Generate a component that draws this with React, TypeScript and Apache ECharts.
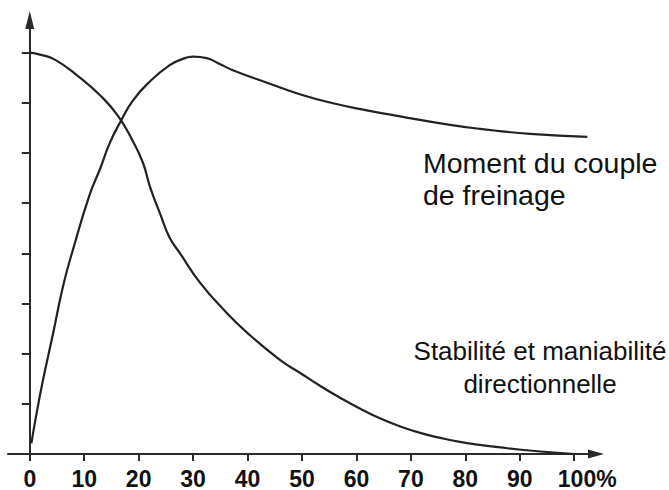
import React, { useEffect, useRef } from "react";
import * as echarts from "echarts";

// Tick values
const xTickValues = [0, 10, 20, 30, 40, 50, 60, 70, 80, 90, 100];
const yTickValues = [1, 2, 3, 4, 5, 6, 7, 8];

// "Stabilité et maniabilité directionnelle"
const stabiliteX = [0, 1.5, 4.6, 9.2, 12.9, 16.2, 18.9, 20.8, 22.1, 23.9, 25.7, 27.6, 31.3, 35.5, 39.9, 46.0, 49.6, 53.3, 57.0, 60.7, 64.3, 68.0, 71.7, 75.4, 79.0, 82.7, 86.4, 93.8, 100];
const stabiliteY = [8.0, 7.97, 7.86, 7.5, 7.15, 6.74, 6.24, 5.8, 5.32, 4.8, 4.31, 4.0, 3.41, 2.89, 2.42, 1.87, 1.62, 1.36, 1.12, 0.9, 0.71, 0.55, 0.42, 0.32, 0.24, 0.18, 0.13, 0.05, 0];

// "Moment du couple de freinage"
const momentX = [0.3, 0.9, 2.4, 4.2, 6.1, 7.9, 11.0, 12.9, 14.7, 16.7, 18.9, 22.1, 25.7, 28.0, 30.0, 32.5, 34.6, 37.3, 43.6, 49.6, 55.7, 61.9, 68.0, 77.2, 82.7, 91.9, 102.4];
const momentY = [0.21, 0.6, 1.46, 2.36, 3.34, 4.06, 5.17, 5.68, 6.2, 6.63, 7.04, 7.43, 7.75, 7.87, 7.92, 7.89, 7.79, 7.65, 7.4, 7.17, 6.99, 6.85, 6.73, 6.56, 6.48, 6.38, 6.32];

const labelMoment = "Moment du couple\nde freinage";
const labelStabilite = "Stabilité et maniabilité\ndirectionnelle";

const toPoints = (xs: number[], ys: number[]) => xs.map((x, i) => [x, ys[i]]);

const FONT = "'Liberation Sans', Arial, Helvetica, sans-serif";
const INK = "#2a2a2a";

export default function App() {
  const ref = useRef<HTMLDivElement>(null);

  useEffect(() => {
    if (!ref.current) return;
    const chart = echarts.init(ref.current, null, { renderer: "svg" });
    chart.setOption({
      animation: false,
      backgroundColor: "#ffffff",
      grid: { left: 8, right: 73, top: 20, bottom: 27, containLabel: false },
      xAxis: {
        type: "value",
        min: -4,
        max: 104,
        axisLine: {
          show: true,
          onZero: true,
          symbol: ["none", "triangle"],
          symbolSize: [9, 16],
          lineStyle: { color: INK, width: 2 },
        },
        axisTick: {
          show: true,
          customValues: xTickValues,
          length: 7,
          lineStyle: { color: INK, width: 2 },
        },
        axisLabel: {
          show: true,
          customValues: xTickValues,
          margin: 8,
          fontSize: 23,
          fontWeight: "bold",
          fontFamily: FONT,
          color: "#111",
          formatter: (v: number) => (v === 100 ? "{p|100%}" : String(v)),
          rich: {
            p: {
              fontSize: 23,
              fontWeight: "bold",
              fontFamily: FONT,
              color: "#111",
              padding: [0, 0, 0, 26],
            },
          },
        },
        splitLine: { show: false },
      },
      yAxis: {
        type: "value",
        min: -0.1,
        max: 8.65,
        axisLine: {
          show: true,
          onZero: true,
          symbol: ["none", "triangle"],
          symbolSize: [9, 18],
          lineStyle: { color: INK, width: 2 },
        },
        axisTick: {
          show: true,
          customValues: yTickValues,
          length: 8,
          lineStyle: { color: INK, width: 2 },
        },
        axisLabel: { show: false },
        splitLine: { show: false },
      },
      series: [
        {
          name: "Stabilité et maniabilité directionnelle",
          type: "line",
          data: toPoints(stabiliteX, stabiliteY),
          smooth: 0.5,
          symbol: "none",
          lineStyle: { color: "#222", width: 2.2 },
        },
        {
          name: "Moment du couple de freinage",
          type: "line",
          data: toPoints(momentX, momentY),
          smooth: 0.5,
          symbol: "none",
          lineStyle: { color: "#222", width: 2.2 },
        },
      ],
      graphic: [
        {
          type: "text",
          x: 423,
          y: 147,
          style: {
            text: labelMoment,
            fontSize: 28.5,
            fontFamily: FONT,
            fill: "#111",
            lineHeight: 32,
            align: "left",
            verticalAlign: "top",
          },
        },
        {
          type: "text",
          x: 540,
          y: 334,
          style: {
            text: labelStabilite,
            fontSize: 26,
            fontFamily: FONT,
            fill: "#111",
            lineHeight: 33,
            align: "center",
            verticalAlign: "top",
          },
        },
      ],
    });
    return () => chart.dispose();
  }, []);

  return (
    <div
      ref={ref}
      style={{ position: "fixed", left: 0, top: 0, width: 669, height: 490, background: "#fff" }}
    />
  );
}
